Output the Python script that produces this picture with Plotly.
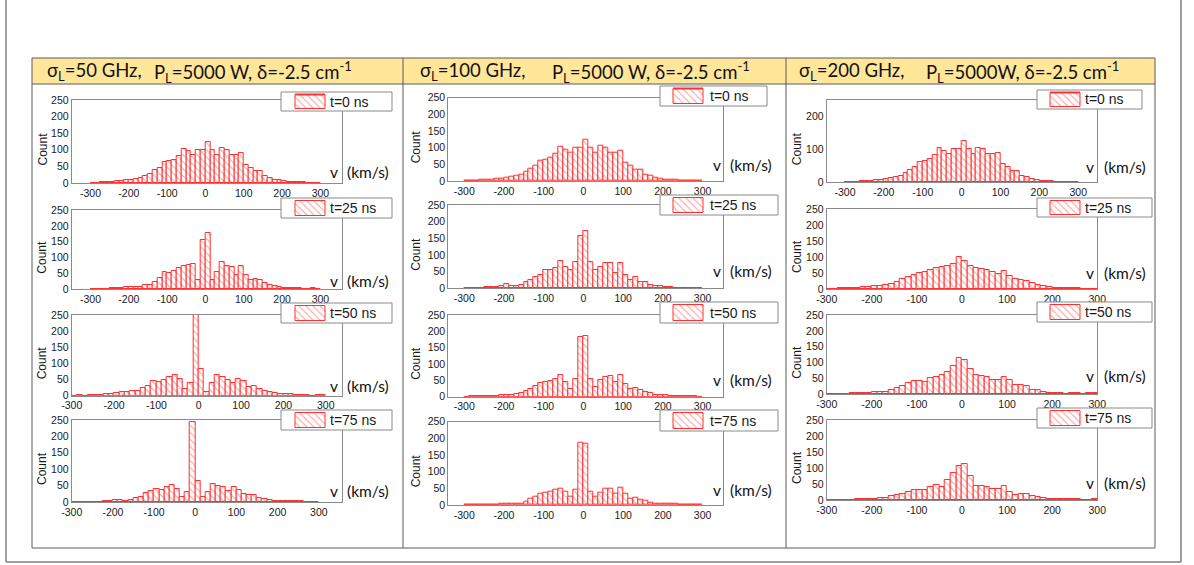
import numpy as np
import plotly.graph_objects as go

W, H = 1194, 565

# ---------------------------------------------------------------- data
# Velocity histograms, 48 bins of 12.5 km/s spanning -300 ... +300 km/s
BIN_WIDTH = 12.5
V_START = -300.0
N_BINS = 48
bin_centers = V_START + BIN_WIDTH * (np.arange(N_BINS) + 0.5)

# initial (t = 0 ns) distribution, identical for every laser linewidth
counts_0ns = [0, 1, 2, 3, 4, 5, 6, 8, 10, 12, 15, 20,
              28, 38, 45, 62, 65, 70, 82, 103, 95, 85, 100, 100,
              125, 100, 85, 105, 100, 85, 85, 90, 55, 45, 35, 35,
              20, 15, 10, 8, 5, 4, 3, 2, 2, 1, 1, 0]

# sigma_L = 50 GHz
counts_50ghz_25ns = [0, 0, 2, 2, 3, 4, 5, 6, 8, 7, 8, 12,
                     15, 22, 35, 55, 52, 58, 68, 75, 78, 80, 30, 155,
                     178, 30, 55, 85, 72, 70, 45, 75, 45, 30, 32, 30,
                     20, 15, 10, 6, 4, 3, 3, 3, 0, 0, 3, 0]
counts_50ghz_50ns = [0, 1, 0, 1, 2, 3, 5, 6, 8, 10, 10, 15,
                     15, 25, 30, 45, 42, 48, 58, 65, 52, 20, 40, 250,
                     82, 12, 40, 65, 58, 50, 40, 52, 45, 28, 30, 22,
                     15, 12, 8, 6, 5, 4, 3, 2, 1, 0, 3, 2]
counts_50ghz_75ns = [0, 1, 0, 1, 1, 1, 2, 3, 6, 5, 3, 5,
                     12, 15, 28, 35, 40, 38, 45, 52, 40, 15, 32, 245,
                     65, 15, 30, 55, 48, 45, 35, 45, 38, 25, 22, 20,
                     12, 8, 5, 4, 3, 3, 2, 3, 2, 0, 1, 0]

# sigma_L = 100 GHz
counts_100ghz_25ns = [0, 0, 2, 1, 3, 4, 5, 8, 12, 8, 8, 10,
                      20, 25, 35, 40, 55, 55, 60, 82, 65, 55, 80, 158,
                      172, 80, 55, 65, 75, 75, 45, 75, 40, 25, 35, 20,
                      20, 10, 8, 6, 4, 3, 2, 2, 0, 0, 2, 0]
counts_100ghz_50ns = [0, 1, 1, 1, 2, 3, 3, 5, 6, 6, 8, 10,
                      18, 25, 32, 42, 45, 48, 55, 65, 45, 25, 55, 183,
                      185, 55, 30, 50, 60, 62, 45, 65, 40, 25, 28, 20,
                      15, 10, 6, 4, 4, 3, 3, 2, 1, 1, 2, 0]
counts_100ghz_75ns = [0, 2, 1, 2, 1, 2, 2, 4, 5, 5, 4, 5,
                      10, 18, 25, 35, 38, 40, 45, 50, 40, 25, 45, 188,
                      185, 40, 25, 38, 48, 48, 35, 52, 35, 20, 22, 15,
                      12, 8, 4, 3, 3, 4, 4, 2, 1, 1, 1, 0]

# sigma_L = 200 GHz
counts_200ghz_25ns = [0, 1, 2, 2, 3, 4, 5, 6, 8, 10, 12, 15,
                      22, 30, 38, 45, 50, 52, 58, 65, 68, 72, 78, 100,
                      88, 72, 65, 62, 58, 52, 48, 55, 42, 30, 28, 25,
                      18, 12, 8, 6, 4, 3, 3, 2, 2, 1, 1, 1]
counts_200ghz_50ns = [0, 0, 1, 1, 3, 4, 4, 4, 6, 8, 8, 12,
                      20, 25, 35, 42, 42, 40, 50, 55, 62, 70, 90, 115,
                      108, 80, 60, 58, 55, 45, 45, 55, 45, 28, 28, 25,
                      15, 12, 8, 5, 4, 3, 2, 3, 4, 2, 3, 5]
counts_200ghz_75ns = [0, 0, 0, 1, 1, 2, 2, 2, 3, 5, 6, 12,
                      15, 18, 25, 32, 30, 30, 42, 48, 40, 62, 85, 105,
                      112, 75, 45, 45, 42, 35, 35, 45, 25, 15, 20, 18,
                      12, 8, 6, 4, 3, 2, 2, 2, 3, 1, 1, 3]

panel_counts = [
    [counts_0ns, counts_50ghz_25ns, counts_50ghz_50ns, counts_50ghz_75ns],
    [counts_0ns, counts_100ghz_25ns, counts_100ghz_50ns, counts_100ghz_75ns],
    [counts_0ns, counts_200ghz_25ns, counts_200ghz_50ns, counts_200ghz_75ns],
]

time_labels = ["t=0 ns", "t=25 ns", "t=50 ns", "t=75 ns"]
header_left = ["σ<sub>L</sub>=50 GHz,", "σ<sub>L</sub>=100 GHz,", "σ<sub>L</sub>=200 GHz,"]
header_right = ["P<sub>L</sub>=5000 W, δ=-2.5 cm<sup>-1</sup>",
                "P<sub>L</sub>=5000 W, δ=-2.5 cm<sup>-1</sup>",
                "P<sub>L</sub>=5000W, δ=-2.5 cm<sup>-1</sup>"]
x_tick_vals = [-300, -200, -100, 0, 100, 200, 300]
x_tick_text = ["-300", "-200", "-100", "0", "100", "200", "300"]
y_tick_vals = [0, 50, 100, 150, 200, 250]
y_tick_vals_sparse = [0, 100, 200]

# ---------------------------------------------------------------- layout (pixels)
table_x = [32, 403, 786, 1155]
table_top, header_bottom, table_bottom = 58, 84, 548
frame_x = [(71.7, 342.3), (448.3, 723.3), (826.7, 1097.3)]
frame_y = [
    [(100, 183), (210, 289.3), (315, 395.7), (420, 502)],
    [(97.7, 181), (205, 288.3), (315, 396.7), (421.7, 505)],
    [(100, 182.3), (209, 289), (315, 394.3), (420, 500)],
]
x_ranges = [
    [(-349, 357), (-349, 357), (-300, 339), (-300, 357)],
    [(-340, 352), (-340, 352), (-340, 352), (-340, 352)],
    [(-347, 349), (-300, 300), (-300, 300), (-300, 300)],
]
legend_boxes = [
    [(281, 392, 92, 111), (281, 392, 198, 218), (281, 392, 303, 323), (281, 392, 410, 430)],
    [(660, 767, 86, 106), (660, 778, 195, 215), (660, 778, 302, 323), (660, 778, 410, 431)],
    [(1037, 1142, 90, 109), (1037, 1152, 198, 217), (1037, 1152, 302, 322), (1037, 1152, 408, 428)],
]
swatch_dx = [14, 13, 13]
legend_text_dx = [47, 48, 46]
count_label_x = [42, 416, 797]
header_left_x = [45, 418, 797]
header_right_x = [152, 550, 924]
v_dx = [-8.6, -6.7, -7.3]
kms_dx = [2.7, 4.7, 4.4]
vtext_dy = [[-11, -8, -10, -11], [-16, -17, -17, -15], [-15, -16, -18, -17]]

RED_LINE = "#ff3030"
RED_HATCH = "#ff5c5c"
FRAME = "#8a8a8a"
TICK_FONT = dict(family="Liberation Sans, Arial", size=10.5, color="#1a1a1a")


def px_x(x):
    return x / W


def px_y(y):
    return 1 - y / H


fig = go.Figure()
layout = dict(
    width=W, height=H, autosize=False,
    margin=dict(l=0, r=0, t=0, b=0, pad=0, autoexpand=False),
    paper_bgcolor="white", plot_bgcolor="rgba(0,0,0,0)",
    showlegend=False, bargap=0,
)
annotations = []
shapes = []

k = 0
for c in range(3):
    for r in range(4):
        k += 1
        xa = "x" if k == 1 else f"x{k}"
        ya = "y" if k == 1 else f"y{k}"
        fig.add_trace(go.Bar(
            x=bin_centers, y=panel_counts[c][r], width=BIN_WIDTH,
            xaxis=xa, yaxis=ya,
            marker=dict(color="white",
                        line=dict(color=RED_LINE, width=1),
                        pattern=dict(shape="\\", fgcolor=RED_HATCH, bgcolor="white",
                                     size=5, solidity=0.25)),
            hoverinfo="x+y",
        ))
        x0, x1 = frame_x[c]
        y0, y1 = frame_y[c][r]
        axis_common = dict(showline=True, linecolor=FRAME, linewidth=1, mirror=True,
                           showgrid=False, zeroline=False, ticks="", automargin=False,
                           tickfont=TICK_FONT, fixedrange=True)
        layout["xaxis" if k == 1 else f"xaxis{k}"] = dict(
            domain=[px_x(x0), px_x(x1)], range=list(x_ranges[c][r]),
            anchor=ya, tickmode="array", tickvals=x_tick_vals, ticktext=x_tick_text,
            ticklabelstandoff=0, **axis_common)
        yt = y_tick_vals_sparse if (c == 2 and r == 0) else y_tick_vals
        layout["yaxis" if k == 1 else f"yaxis{k}"] = dict(
            domain=[px_y(y1), px_y(y0)], range=[0, 250],
            anchor=xa, tickmode="array", tickvals=yt, ticktext=[str(v) for v in yt],
            ticklabelstandoff=0, **axis_common)

        # axis title and velocity unit
        annotations.append(dict(
            text="Count", textangle=-90, xref="paper", yref="paper",
            x=px_x(count_label_x[c]), y=px_y((y0 + y1) / 2 + 8),
            xanchor="center", yanchor="middle", showarrow=False,
            font=dict(family="Liberation Sans, Arial", size=12, color="#1a1a1a")))
        annotations.append(dict(
            text="v", xref="paper", yref="paper",
            x=px_x(x1 + v_dx[c]), y=px_y(y1 + vtext_dy[c][r]),
            xanchor="center", yanchor="middle", showarrow=False,
            font=dict(family="Lato", size=15.5, color="#111111")))
        annotations.append(dict(
            text="(km/s)", xref="paper", yref="paper",
            x=px_x(x1 + kms_dx[c]), y=px_y(y1 + vtext_dy[c][r]),
            xanchor="left", yanchor="middle", showarrow=False,
            font=dict(family="Lato", size=15.5, color="#111111")))

        lx0, lx1, ly0, ly1 = legend_boxes[c][r]
        annotations.append(dict(
            text=time_labels[r], xref="paper", yref="paper",
            x=px_x(lx0 + legend_text_dx[c]), y=px_y((ly0 + ly1) / 2),
            xanchor="left", yanchor="middle", showarrow=False,
            font=dict(family="Liberation Sans, Arial", size=14, color="#1a1a1a")))

# overlay subplot in pixel units, holding the legend frames and swatches
layout["xaxis13"] = dict(domain=[0, 1], range=[0, W], visible=False, fixedrange=True,
                         automargin=False, anchor="y13")
layout["yaxis13"] = dict(domain=[0, 1], range=[H, 0], visible=False, fixedrange=True,
                         automargin=False, anchor="x13")

box_x, box_y, sw_x, sw_y, top_x, top_y = [], [], [], [], [], []
for c in range(3):
    for r in range(4):
        lx0, lx1, ly0, ly1 = legend_boxes[c][r]
        box_x += [lx0, lx1, lx1, lx0, lx0, None]
        box_y += [ly0, ly0, ly1, ly1, ly0, None]
        sx0 = lx0 + swatch_dx[c]
        sx1 = sx0 + 30
        sy0, sy1 = ly0 + 2.5, ly1 - 2.5
        sw_x += [sx0, sx1, sx1, sx0, sx0, None]
        sw_y += [sy0, sy0, sy1, sy1, sy0, None]
        if r == 0:
            top_x += [sx0, sx1, None]
            top_y += [sy0, sy0, None]

fig.add_trace(go.Scatter(x=box_x, y=box_y, xaxis="x13", yaxis="y13", mode="lines",
                         fill="toself", fillcolor="white",
                         line=dict(color=FRAME, width=1), hoverinfo="skip"))
fig.add_trace(go.Scatter(x=sw_x, y=sw_y, xaxis="x13", yaxis="y13", mode="lines",
                         fill="toself", fillcolor="white",
                         fillpattern=dict(shape="\\", fgcolor=RED_HATCH, bgcolor="white",
                                          size=5, solidity=0.25),
                         line=dict(color=RED_LINE, width=1), hoverinfo="skip"))
fig.add_trace(go.Scatter(x=top_x, y=top_y, xaxis="x13", yaxis="y13", mode="lines",
                         line=dict(color=RED_LINE, width=2), hoverinfo="skip"))

# table: header band, grid lines, outer frame
shapes.append(dict(type="rect", xref="paper", yref="paper", layer="below",
                   x0=px_x(table_x[0]), x1=px_x(table_x[-1]),
                   y0=px_y(header_bottom), y1=px_y(table_top),
                   fillcolor="#ffe699", line=dict(width=0)))
grid = dict(color="#5a5a5a", width=1)
for xv in table_x:
    shapes.append(dict(type="line", xref="paper", yref="paper", layer="below",
                       x0=px_x(xv), x1=px_x(xv), y0=px_y(table_bottom), y1=px_y(table_top),
                       line=grid))
for yv in (table_top, header_bottom, table_bottom):
    shapes.append(dict(type="line", xref="paper", yref="paper", layer="below",
                       x0=px_x(table_x[0]), x1=px_x(table_x[-1]), y0=px_y(yv), y1=px_y(yv),
                       line=grid))
outer = dict(color="#7f7f7f", width=1.5)
shapes.append(dict(type="line", xref="paper", yref="paper", layer="below",
                   x0=px_x(6), x1=px_x(6), y0=px_y(562), y1=1, line=outer))
shapes.append(dict(type="line", xref="paper", yref="paper", layer="below",
                   x0=px_x(1181), x1=px_x(1181), y0=px_y(562), y1=1, line=outer))
shapes.append(dict(type="line", xref="paper", yref="paper", layer="below",
                   x0=px_x(6), x1=px_x(1181), y0=px_y(562), y1=px_y(562), line=outer))

for c in range(3):
    for txt, xv in ((header_left[c], header_left_x[c]), (header_right[c], header_right_x[c])):
        annotations.append(dict(
            text=txt, xref="paper", yref="paper", x=px_x(xv), y=px_y(71.5),
            xanchor="left", yanchor="middle", showarrow=False,
            font=dict(family="Lato", size=18.5, color="#111111")))

layout["annotations"] = annotations
layout["shapes"] = shapes
fig.update_layout(**layout)

fig.write_html("out.html")
